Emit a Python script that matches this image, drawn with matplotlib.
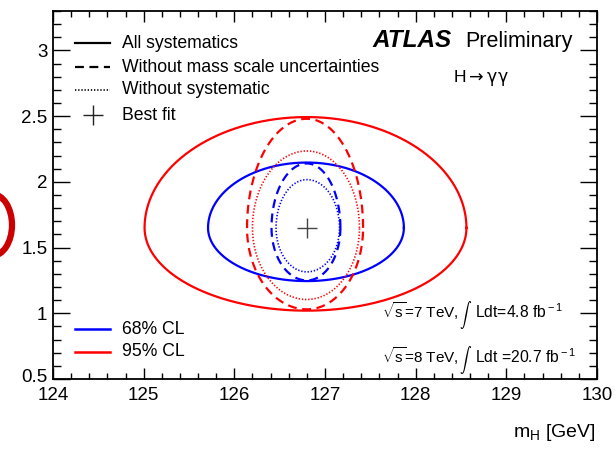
import numpy as np
import matplotlib
matplotlib.use("Agg")
import matplotlib.pyplot as plt
from matplotlib.patches import Ellipse
from matplotlib.ticker import MultipleLocator
from matplotlib.transforms import ScaledTranslation

plt.rcParams['font.family'] = ['Liberation Sans', 'DejaVu Sans']
plt.rcParams['mathtext.fontset'] = 'custom'
plt.rcParams['mathtext.rm'] = 'Liberation Sans'
plt.rcParams['mathtext.it'] = 'Liberation Sans:italic'
plt.rcParams['mathtext.bf'] = 'Liberation Sans:bold'

# ---------------- data ----------------
best_fit_mass = 126.8
best_fit_mu = 1.65

cl_labels = ['68% CL', '95% CL']
cl_colors = ['#0000ff', '#ff0000']
variant_labels = ['All systematics', 'Without mass scale uncertainties', 'Without systematic']

# contour extents, per CL (rows) and variant (cols)
x_min = [[125.71, 126.41, 126.46], [125.01, 126.14, 126.20]]
x_max = [[127.87, 127.17, 127.16], [128.56, 127.42, 127.38]]
y_min = [[1.245, 1.25, 1.315], [1.02, 1.03, 1.105]]
y_max = [[2.147, 2.14, 2.017], [2.493, 2.48, 2.235]]

x_ticks = [124, 125, 126, 127, 128, 129, 130]
y_ticks = [0.5, 1, 1.5, 2, 2.5, 3]
y_tick_labels = ['0.5', '1', '1.5', '2', '2.5', '3']

# ---------------- styles ----------------
variant_styles = ['-', (0, (4, 2.5)), (0, (0.8, 1.1))]
variant_widths = [1.6, 1.6, 1.2]

W, H = 616, 455
fig = plt.figure(figsize=(W / 100, H / 100), dpi=100)
L, R, T, B = 53, 597, 11, 379
ax = fig.add_axes([L / W, 1 - B / H, (R - L) / W, (B - T) / H])
ax.set_xlim(124, 130)
ax.set_ylim(0.5, 3.3)

def fx(px):
    return (px - L) / (R - L)

def fy(py):
    return (B - py) / (B - T)

# contours
t = np.linspace(0, 2 * np.pi, 721)
c, s = np.cos(t), np.sin(t)
for i in range(2):
    for j in range(3):
        rx = np.where(c > 0, x_max[i][j] - best_fit_mass, best_fit_mass - x_min[i][j])
        ry = np.where(s > 0, y_max[i][j] - best_fit_mu, best_fit_mu - y_min[i][j])
        ax.plot(best_fit_mass + rx * c, best_fit_mu + ry * s,
                color=cl_colors[i], ls=variant_styles[j], lw=variant_widths[j])

ax.plot([best_fit_mass], [best_fit_mu], marker='+', ms=15, mew=1.0, color='#444444', ls='none')

# axes style
for sp in ax.spines.values():
    sp.set_linewidth(1.3)
ax.xaxis.set_minor_locator(MultipleLocator(0.2))
ax.yaxis.set_minor_locator(MultipleLocator(0.1))
ax.set_xticks(x_ticks)
ax.set_xticklabels([str(v) for v in x_ticks])
ax.set_yticks(y_ticks)
ax.set_yticklabels(y_tick_labels)
ax.tick_params(axis='both', which='both', direction='in', top=True, right=True, width=1.0)
ax.tick_params(axis='x', which='major', length=8, pad=6, labelsize=13.5)
ax.tick_params(axis='x', which='minor', length=4.5)
ax.tick_params(axis='y', which='major', length=12, pad=4, labelsize=13.5)
ax.tick_params(axis='y', which='minor', length=6)
# lift the lowest y label a little, as in the original
lab0 = ax.get_yticklabels()[0]
lab0.set_transform(lab0.get_transform() + ScaledTranslation(0, 4 / 100, fig.dpi_scale_trans))

fig.text((R - 1) / W, 1 - 437 / H, r'm$_{\rm H}$ [GeV]', ha='right', va='baseline', fontsize=14)

# legend (variants)
leg_fs = 12.7
leg_y = [43, 67, 90, 115]
for k, (lab, ls, lw) in enumerate(zip(variant_labels, variant_styles, variant_widths)):
    ax.plot([fx(75), fx(110)], [fy(leg_y[k])] * 2, transform=ax.transAxes,
            color='black', ls=ls, lw=lw)
    ax.text(fx(122), fy(leg_y[k]), lab, transform=ax.transAxes, ha='left', va='center', fontsize=leg_fs)
ax.plot([fx(93)], [fy(leg_y[3])], transform=ax.transAxes, marker='+', ms=14, mew=1.0,
        color='#222222', ls='none')
ax.text(fx(122), fy(leg_y[3]), 'Best fit', transform=ax.transAxes, ha='left', va='center', fontsize=leg_fs)

# legend (CL)
cl_y = [329, 352]
for k in range(2):
    ax.plot([fx(75), fx(110)], [fy(cl_y[k])] * 2, transform=ax.transAxes, color=cl_colors[k], lw=1.8)
    ax.text(fx(122), fy(cl_y[k]), cl_labels[k], transform=ax.transAxes, ha='left', va='center', fontsize=leg_fs)

# ATLAS label
ax.text(fx(372), fy(47), 'ATLAS', transform=ax.transAxes, ha='left', va='baseline',
        fontsize=17.5, fontweight='bold', fontstyle='italic')
ax.text(fx(573), fy(47), 'Preliminary', transform=ax.transAxes, ha='right', va='baseline', fontsize=15.5)
ax.text(fx(453), fy(82), r'H$\rightarrow\mathrm{\gamma\gamma}$', transform=ax.transAxes,
        ha='left', va='baseline', fontsize=12.5, math_fontfamily='dejavusans')

# energy / luminosity labels
lum_base = [318, 363]
lum_left = [r'$\sqrt{\rm s}$=7 TeV,', r'$\sqrt{\rm s}$=8 TeV,']
lum_right = [r'Ldt=4.8 fb$^{\rm -1}$', r'Ldt =20.7 fb$^{\rm -1}$']
for k in range(2):
    ax.text(fx(382), fy(lum_base[k]), lum_left[k], transform=ax.transAxes, ha='left', va='baseline', fontsize=11.0)
    ax.text(fx(466), fy(lum_base[k] - 3), r'$\int$', transform=ax.transAxes, ha='center', va='center',
            fontsize=8.5, math_fontfamily='cm')
    ax.text(fx(475), fy(lum_base[k]), lum_right[k], transform=ax.transAxes, ha='left', va='baseline', fontsize=11.3)

# red slide annotation at the left edge
fig.add_artist(Ellipse((-8 / W, 1 - 225 / H), 40 / W, 62 / H, transform=fig.transFigure,
                       fill=False, edgecolor='#cc0000', lw=4.5, clip_on=False))

fig.savefig('out.png', dpi=100)
